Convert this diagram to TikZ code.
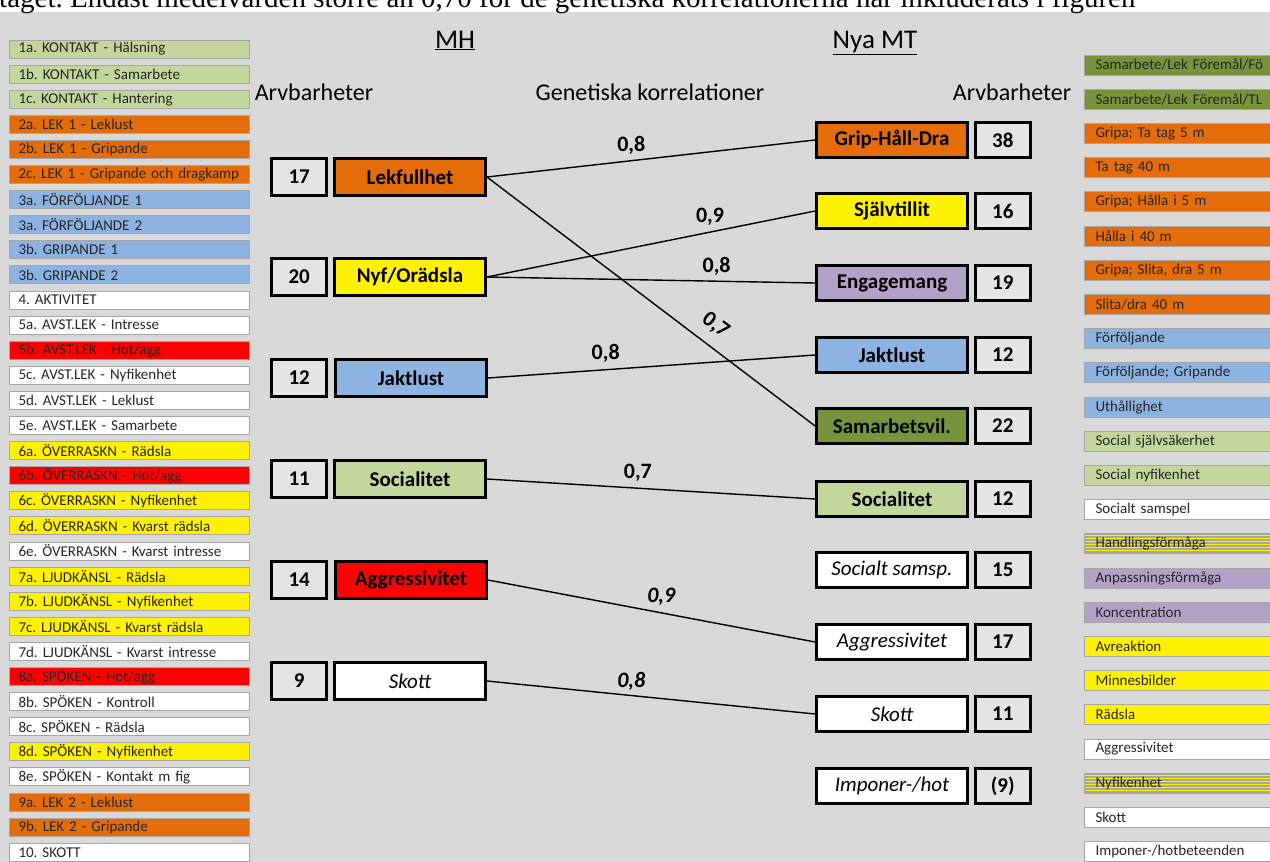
\documentclass[tikz,border=0pt]{standalone}
\usepackage{fontspec}
\setmainfont{Carlito}
\newfontfamily\notefont{Liberation Serif}
\usetikzlibrary{positioning}

\definecolor{bggray}{HTML}{D9D9D9}
\definecolor{boxgray}{HTML}{E4E4E4}
\definecolor{orng}{HTML}{E46C0A}
\definecolor{lblue}{HTML}{8DB3E2}
\definecolor{lgreen}{HTML}{C3D69B}
\definecolor{dgreen}{HTML}{77933C}
\definecolor{lilac}{HTML}{B3A2C7}
\definecolor{stripebase}{HTML}{A8A890}
\definecolor{edgegray}{HTML}{A6A6A6}
\definecolor{txtgray}{HTML}{262626}

\begin{document}
\frenchspacing
\begin{tikzpicture}[
  x=1pt, y=-1pt,
  listbox/.style={rectangle, draw=edgegray, line width=1pt, inner ysep=0pt, align=left, text=txtgray, font=\fontsize{15}{16}\selectfont},
  llist/.style={listbox, minimum height=18pt, text width=222pt, inner xsep=9pt},
  rlist/.style={listbox, minimum height=20pt, text width=190pt, inner xsep=11pt},
  fGreen/.style={fill=lgreen}, fOrange/.style={fill=orng}, fBlue/.style={fill=lblue},
  fWhite/.style={fill=white}, fRed/.style={fill=red}, fYellow/.style={fill=yellow},
  fOlive/.style={fill=dgreen}, fLilac/.style={fill=lilac},
  fStripe/.style={fill=stripebase, path picture={
      \foreach \k in {2,5,...,20}
        \draw[yellow, line width=1pt] ([yshift=-\k pt]path picture bounding box.north west) -- ([yshift=-\k pt]path picture bounding box.north east);}},
  trait/.style={rectangle, draw, line width=2.8pt, minimum width=151pt, minimum height=37pt, inner sep=0pt, font=\fontsize{21}{24}\selectfont\bfseries},
  rtrait/.style={trait, minimum height=35pt},
  score/.style={rectangle, draw, line width=2.8pt, fill=boxgray, minimum width=55pt, minimum height=37pt, inner sep=0pt, font=\fontsize{21}{24}\selectfont\bfseries},
  rscore/.style={score, minimum height=35pt},
  soft/.style={fill=white, font=\fontsize{21}{24}\selectfont\itshape},
  corr/.style={font=\fontsize{22}{24}\selectfont\bfseries, inner sep=1.5pt},
  link/.style={line width=1.4pt},
  head/.style={anchor=base, inner sep=0pt, font=\fontsize{24}{28}\selectfont}
]
  \useasboundingbox (0,0) rectangle (1270,862);
  \clip (0,0) rectangle (1270,862);
  \fill[white] (0,0) rectangle (1270,12);
  \fill[bggray] (0,12) rectangle (1270,862);

  % Caption line, cut off at the top
  \node[anchor=base west, inner sep=0pt, font=\notefont\fontsize{29}{31}\selectfont] (note) at (-1,8)
    {taget. Endast medelvärden större än 0,70 för de genetiska korrelationerna har inkluderats i figuren};

  % Headings
  \node[head, font=\fontsize{27}{30}\selectfont] (mh) at (455,48) {\underline{MH}};
  \node[head, font=\fontsize{27}{30}\selectfont] (mt) at (875,48) {\underline{Nya MT}};
  \node[head] (arvL) at (314,100) {Arvbarheter};
  \node[head] (gen) at (650,100) {Genetiska korrelationer};
  \node[head] (arvR) at (1012,100) {Arvbarheter};

  % MH subtests
  \foreach \txt/\sty [count=\i] in {
    {1a. KONTAKT - Hälsning}/fGreen, {1b. KONTAKT - Samarbete}/fGreen, {1c. KONTAKT - Hantering}/fGreen,
    {2a. LEK 1 - Leklust}/fOrange, {2b. LEK 1 - Gripande}/fOrange, {2c. LEK 1 - Gripande och dragkamp}/fOrange,
    {3a. FÖRFÖLJANDE 1}/fBlue, {3a. FÖRFÖLJANDE 2}/fBlue, {3b. GRIPANDE 1}/fBlue, {3b. GRIPANDE 2}/fBlue,
    {4. AKTIVITET}/fWhite, {5a. AVST.LEK - Intresse}/fWhite, {5b. AVST.LEK - Hot/agg}/fRed,
    {5c. AVST.LEK - Nyfikenhet}/fWhite, {5d. AVST.LEK - Leklust}/fWhite, {5e. AVST.LEK - Samarbete}/fWhite,
    {6a. ÖVERRASKN - Rädsla}/fYellow, {6b. ÖVERRASKN - Hot/agg}/fRed, {6c. ÖVERRASKN - Nyfikenhet}/fYellow,
    {6d. ÖVERRASKN - Kvarst rädsla}/fYellow, {6e. ÖVERRASKN - Kvarst intresse}/fWhite,
    {7a. LJUDKÄNSL - Rädsla}/fYellow, {7b. LJUDKÄNSL - Nyfikenhet}/fYellow,
    {7c. LJUDKÄNSL - Kvarst rädsla}/fYellow, {7d. LJUDKÄNSL - Kvarst intresse}/fWhite,
    {8a. SPÖKEN - Hot/agg}/fRed, {8b. SPÖKEN - Kontroll}/fWhite, {8c. SPÖKEN - Rädsla}/fWhite,
    {8d. SPÖKEN - Nyfikenhet}/fYellow, {8e. SPÖKEN - Kontakt m fig}/fWhite,
    {9a. LEK 2 - Leklust}/fOrange, {9b. LEK 2 - Gripande}/fOrange, {10. SKOTT}/fWhite}
    \node[llist, \sty] (sub\i) at (129.5, {49+25.1*(\i-1)}) {\txt};

  % Nya MT subtests
  \foreach \txt/\sty [count=\i] in {
    {Samarbete/Lek Föremål/Fö}/fOlive, {Samarbete/Lek Föremål/TL}/fOlive,
    {Gripa; Ta tag 5 m}/fOrange, {Ta tag 40 m}/fOrange, {Gripa; Hålla i 5 m}/fOrange,
    {Hålla i 40 m}/fOrange, {Gripa; Slita, dra  5 m}/fOrange, {Slita/dra 40 m}/fOrange,
    {Förföljande}/fBlue, {Förföljande; Gripande}/fBlue, {Uthållighet}/fBlue,
    {Social självsäkerhet}/fGreen, {Social nyfikenhet}/fGreen, {Socialt samspel}/fWhite,
    {Handlingsförmåga}/fStripe, {Anpassningsförmåga}/fLilac, {Koncentration}/fLilac,
    {Avreaktion}/fYellow, {Minnesbilder}/fYellow, {Rädsla}/fYellow,
    {Aggressivitet}/fWhite, {Nyfikenhet}/fStripe, {Skott}/fWhite, {Imponer-/hotbeteenden}/fWhite}
    \node[rlist, \sty] (mtsub\i) at (1190.5, {65+34.2*(\i-1)}) {\txt};

  % MH traits
  \node[trait, fill=orng] (mhLek) at (410,177) {Lekfullhet};
  \node[trait, fill=yellow] (mhNyf) at (410,277) {Nyf/Orädsla};
  \node[trait, fill=lblue] (mhJakt) at (411,378) {Jaktlust};
  \node[trait, fill=lgreen] (mhSoc) at (410,479) {Socialitet};
  \node[trait, fill=red] (mhAgg) at (411,580) {Aggressivitet};
  \node[trait, soft] (mhSkott) at (410,681) {Skott};
  \node[score, left=5pt of mhLek] (mhLekH) {17};
  \node[score, left=5pt of mhNyf] (mhNyfH) {20};
  \node[score, left=6pt of mhJakt] (mhJaktH) {12};
  \node[score, left=5pt of mhSoc] (mhSocH) {11};
  \node[score, left=6pt of mhAgg] (mhAggH) {14};
  \node[score, left=5pt of mhSkott] (mhSkottH) {9};

  % Nya MT traits
  \node[rtrait, fill=orng] (mtGrip) at (892,140) {Grip-Håll-Dra};
  \node[rtrait, fill=yellow] (mtSjalv) at (892,211) {Självtillit};
  \node[rtrait, fill=lilac] (mtEng) at (892,283) {Engagemang};
  \node[rtrait, fill=lblue] (mtJakt) at (892,355) {Jaktlust};
  \node[rtrait, fill=dgreen] (mtSam) at (892,426) {Samarbetsvil.};
  \node[rtrait, fill=lgreen] (mtSoc) at (892,499) {Socialitet};
  \node[rtrait, soft] (mtSamsp) at (892,570) {Socialt samsp.};
  \node[rtrait, soft] (mtAgg) at (892,642) {Aggressivitet};
  \node[rtrait, soft] (mtSkott) at (892,714) {Skott};
  \node[rtrait, soft] (mtImp) at (892,786) {Imponer-/hot};
  \node[rscore, right=5pt of mtGrip] (mtGripH) {38};
  \node[rscore, right=5pt of mtSjalv] (mtSjalvH) {16};
  \node[rscore, right=5pt of mtEng] (mtEngH) {19};
  \node[rscore, right=5pt of mtJakt] (mtJaktH) {12};
  \node[rscore, right=5pt of mtSam] (mtSamH) {22};
  \node[rscore, right=5pt of mtSoc] (mtSocH) {12};
  \node[rscore, right=5pt of mtSamsp] (mtSamspH) {15};
  \node[rscore, right=5pt of mtAgg] (mtAggH) {17};
  \node[rscore, right=5pt of mtSkott] (mtSkottH) {11};
  \node[rscore, right=5pt of mtImp] (mtImpH) {(9)};

  % Genetic correlations
  \draw[link] (mhLek.east) -- node[corr, pos=0.44, above=4pt] {0,8} (mtGrip.west);
  \draw[link] (mhLek.east) -- node[corr, pos=0.66, above=9pt, sloped] {0,7} (mtSam.west);
  \draw[link] (mhNyf.east) -- node[corr, pos=0.68, above=4pt] {0,9} (mtSjalv.west);
  \draw[link] (mhNyf.east) -- node[corr, pos=0.70, above=4pt] {0,8} (mtEng.west);
  \draw[link] (mhJakt.east) -- node[corr, pos=0.36, above=5pt] {0,8} (mtJakt.west);
  \draw[link] (mhSoc.east) -- node[corr, pos=0.46, above=5pt] {0,7} (mtSoc.west);
  \draw[link] (mhAgg.east) -- node[corr, pos=0.53, above=5pt, font=\fontsize{22}{24}\selectfont\bfseries\itshape] {0,9} (mtAgg.west);
  \draw[link] (mhSkott.east) -- node[corr, pos=0.44, above=3pt, font=\fontsize{22}{24}\selectfont\bfseries\itshape] {0,8} (mtSkott.west);
\end{tikzpicture}
\end{document}
